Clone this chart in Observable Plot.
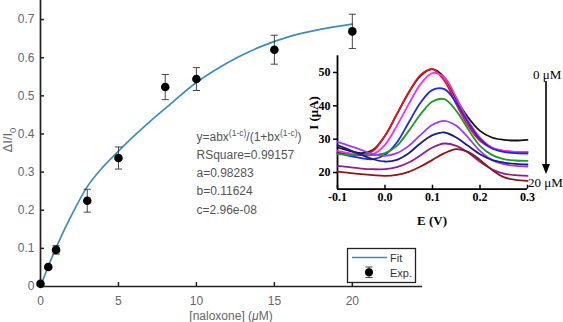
<!DOCTYPE html>
<html><head><meta charset="utf-8">
<script src="https://cdn.jsdelivr.net/npm/d3@7"></script>
<script src="https://cdn.jsdelivr.net/npm/@observablehq/plot@0.6"></script>
<style>
body{margin:0;background:#fff;}
#wrap{position:relative;width:563px;height:322px;overflow:hidden;}
#wrap svg{position:absolute;}
</style></head><body><div id="wrap"></div><script>
// ---- main chart data ----
const conc = [0, 0.5, 1, 3, 5, 8, 10, 15, 20];
const ratio = [0.007, 0.051, 0.096, 0.225, 0.337, 0.523, 0.544, 0.621, 0.669];
const ratioErr = [0.004, 0.005, 0.011, 0.030, 0.029, 0.033, 0.030, 0.038, 0.045];
const fitConc = [0, 0.5, 1, 2, 3, 4, 5, 6, 7, 8, 10, 12, 14, 16, 18, 20];
const fitRatio = [0, 0.053, 0.102, 0.188, 0.262, 0.313, 0.355, 0.395, 0.432, 0.467, 0.535, 0.587, 0.627, 0.656, 0.675, 0.688];
const mainXTicks = [0, 5, 10, 15, 20];
const mainXTickLabels = ["0", "5", "10", "15", "20"];
const mainYTicks = [0, 0.1, 0.2, 0.3, 0.4, 0.5, 0.6, 0.7];
const mainYTickLabels = ["0", "0.1", "0.2", "0.3", "0.4", "0.5", "0.6", "0.7"];
const fitText = ["RSquare=0.99157", "a=0.98283", "b=0.11624", "c=2.96e-08"];
const legendLabels = ["Fit", "Exp."];

// ---- inset (voltammograms) data ----
const potential = [-0.1, -0.075, -0.05, -0.025, 0, 0.025, 0.05, 0.075, 0.1, 0.125, 0.15, 0.175, 0.2, 0.225, 0.25, 0.275, 0.3];
const cur0   = [27.5, 26.5, 25.8, 26.8, 31.0, 37.5, 44.0, 49.0, 51.0, 48.5, 42.0, 36.5, 32.5, 30.5, 29.8, 29.6, 29.8];
const cur05  = [26.0, 25.5, 25.2, 26.5, 31.0, 37.5, 44.0, 49.3, 51.0, 47.5, 40.5, 34.0, 29.5, 27.3, 26.5, 26.2, 26.1];
const cur1   = [26.5, 25.8, 25.3, 25.5, 28.3, 34.0, 40.5, 46.5, 49.8, 48.5, 42.5, 35.5, 30.5, 27.5, 26.5, 26.2, 26.2];
const cur3   = [25.8, 25.0, 24.3, 24.0, 25.3, 29.0, 35.0, 41.0, 44.8, 45.0, 41.0, 35.0, 30.0, 27.3, 26.2, 25.8, 25.7];
const cur5   = [25.5, 25.3, 25.2, 25.2, 25.8, 28.0, 32.5, 37.5, 41.3, 42.0, 38.5, 33.0, 28.0, 25.3, 24.0, 23.6, 23.5];
const cur8   = [29.2, 28.0, 26.8, 25.5, 25.0, 25.8, 28.0, 31.3, 34.3, 35.5, 34.0, 30.5, 26.5, 23.8, 22.5, 22.0, 21.8];
const cur10  = [28.2, 26.8, 25.3, 24.0, 23.3, 23.8, 25.8, 28.8, 31.2, 32.0, 30.5, 28.0, 25.5, 23.8, 23.0, 22.6, 22.4];
const cur15  = [22.0, 21.6, 21.2, 21.0, 21.0, 21.6, 23.0, 25.2, 27.5, 28.7, 28.0, 26.0, 23.2, 21.0, 19.7, 19.2, 19.0];
const cur20  = [20.3, 19.9, 19.5, 19.2, 19.0, 19.3, 20.2, 21.8, 23.8, 25.8, 27.0, 26.2, 23.8, 20.8, 18.6, 17.8, 17.5];
const curveSeries = [cur0, cur05, cur1, cur3, cur5, cur8, cur10, cur15, cur20];
const curveColors = ["#111111", "#e8141c", "#f22cf2", "#2424e6", "#1f9a2a", "#9b3cf0", "#1c1c8c", "#8e1f8e", "#8e1616"];
const insetXTicks = [-0.1, 0, 0.1, 0.2, 0.3];
const insetXTickLabels = ["-0.1", "0.0", "0.1", "0.2", "0.3"];
const insetYTicks = [20, 30, 40, 50];
const insetYTickLabels = ["20", "30", "40", "50"];
const concLabels = ["0 \u03bcM", "20 \u03bcM"];

const wrap = document.getElementById("wrap");

// ---- main plot ----
const pts = conc.map((c, i) => ({x: c, y: ratio[i], lo: ratio[i] - ratioErr[i], hi: ratio[i] + ratioErr[i]}));
const fit = fitConc.map((c, i) => ({x: c, y: fitRatio[i]}));
const cap = {draw(ctx, size) { const w = Math.sqrt(size / Math.PI); ctx.moveTo(-w, 0); ctx.lineTo(w, 0); }};
const axisColor = "#222";
const main = Plot.plot({
  width: 563, height: 322,
  marginLeft: 40, marginRight: 141, marginTop: 0, marginBottom: 36,
  style: {background: "transparent", fontFamily: "'Liberation Sans', Arial, sans-serif", fontSize: "12px", color: axisColor},
  x: {domain: [0, 24.5]},
  y: {domain: [0, 0.75]},
  marks: [
    Plot.ruleX([0], {stroke: axisColor, strokeWidth: 1.7}),
    Plot.ruleY([0], {stroke: axisColor, strokeWidth: 1.7}),
    Plot.axisX({ticks: mainXTicks, tickFormat: (d, i) => mainXTickLabels[i], tickSize: -4, tickPadding: 14, label: null, stroke: axisColor, strokeWidth: 1.5, fill: "#666"}),
    Plot.axisY({ticks: mainYTicks, tickFormat: (d, i) => mainYTickLabels[i], tickSize: -4, tickPadding: 10, label: null, stroke: axisColor, strokeWidth: 1.5, fill: "#666"}),
    Plot.line(fit, {x: "x", y: "y", stroke: "#3f8cb8", strokeWidth: 1.7, curve: "monotone-x"}),
    Plot.link(pts, {x1: "x", x2: "x", y1: "lo", y2: "hi", stroke: "#333", strokeWidth: 0.9}),
    Plot.dot(pts, {x: "x", y: "lo", symbol: cap, r: 3.6, stroke: "#333", strokeWidth: 0.9}),
    Plot.dot(pts, {x: "x", y: "hi", symbol: cap, r: 3.6, stroke: "#333", strokeWidth: 0.9}),
    Plot.dot(pts, {x: "x", y: "y", r: 4.3, fill: "#000", stroke: "none"})
  ]
});
main.style.left = "0px"; main.style.top = "0px";
wrap.appendChild(main);

// ---- inset plot ----
const insetMarks = [
  Plot.ruleX([-0.1], {stroke: "#000", strokeWidth: 1.8}),
  Plot.ruleY([15], {stroke: "#000", strokeWidth: 1.8}),
  Plot.axisX({ticks: insetXTicks, tickFormat: (d, i) => insetXTickLabels[i], tickSize: -4, tickPadding: 7, label: null, strokeWidth: 1.5, fontWeight: "bold"}),
  Plot.axisY({ticks: insetYTicks, tickFormat: (d, i) => insetYTickLabels[i], tickSize: 4, tickPadding: 3, label: null, strokeWidth: 1.5, fontWeight: "bold"})
];
curveSeries.forEach((s, k) => {
  const rows = potential.map((e, i) => ({e, i: s[i]}));
  insetMarks.push(Plot.line(rows, {x: "e", y: "i", stroke: curveColors[k], strokeWidth: 1.8, curve: "catmull-rom"}));
});
const inset = Plot.plot({
  width: 273, height: 190,
  marginLeft: 47, marginRight: 36, marginTop: 15.3, marginBottom: 41.3,
  style: {background: "transparent", fontFamily: "'Liberation Serif', 'Times New Roman', serif", fontSize: "12px", fontWeight: "bold", color: "#000"},
  x: {domain: [-0.1, 0.3]},
  y: {domain: [15, 55]},
  marks: insetMarks
});
inset.style.left = "290px"; inset.style.top = "40px";
d3.select(inset).selectAll("text").attr("font-weight", "bold");
wrap.appendChild(inset);

// ---- annotations overlay ----
const ov = d3.select(wrap).append("svg").attr("width", 563).attr("height", 322)
  .style("left", "0px").style("top", "0px").style("overflow", "visible");
const sans = "'Liberation Sans', Arial, sans-serif";
const serif = "'Liberation Serif', 'Times New Roman', serif";

// main y label  ΔI/I0
const yl = ov.append("text").attr("transform", "translate(12,140) rotate(-90)")
  .attr("text-anchor", "middle").attr("font-family", sans).attr("font-size", 13).attr("fill", "#666");
yl.append("tspan").text("\u0394I/I");
yl.append("tspan").attr("dy", 3.5).attr("font-size", 9.5).text("0");

// main x label
const xl = ov.append("text").attr("x", 231).attr("y", 319.5).attr("text-anchor", "middle")
  .attr("font-family", sans).attr("font-size", 12).attr("fill", "#666");
xl.append("tspan").text("[naloxone] (");
xl.append("tspan").attr("font-style", "italic").text("\u03bc");
xl.append("tspan").text("M)");

// fit equation text
const eq = ov.append("text").attr("x", 196.5).attr("y", 140.5)
  .attr("font-family", sans).attr("font-size", 12).attr("fill", "#555");
eq.append("tspan").text("y=abx");
eq.append("tspan").attr("dy", -5).attr("font-size", 8.5).text("(1-c)");
eq.append("tspan").attr("dy", 5).text("/(1+bx");
eq.append("tspan").attr("dy", -5).attr("font-size", 8.5).text("(1-c)");
eq.append("tspan").attr("dy", 5).text(")");
fitText.forEach((t, i) => {
  ov.append("text").attr("x", 196.5).attr("y", 158.8 + i * 18.3)
    .attr("font-family", sans).attr("font-size", 12).attr("fill", "#555").text(t);
});

// legend
const lg = ov.append("g");
lg.append("rect").attr("x", 347.5).attr("y", 248.5).attr("width", 68).attr("height", 34)
  .attr("fill", "#fff").attr("stroke", "#222").attr("stroke-width", 1.3);
lg.append("line").attr("x1", 352).attr("x2", 387).attr("y1", 257.5).attr("y2", 257.5)
  .attr("stroke", "#3f8cb8").attr("stroke-width", 1.7);
lg.append("line").attr("x1", 369).attr("x2", 369).attr("y1", 267).attr("y2", 277.5).attr("stroke", "#333").attr("stroke-width", 0.9);
lg.append("line").attr("x1", 365.5).attr("x2", 372.5).attr("y1", 267).attr("y2", 267).attr("stroke", "#333").attr("stroke-width", 0.9);
lg.append("line").attr("x1", 365.5).attr("x2", 372.5).attr("y1", 277.5).attr("y2", 277.5).attr("stroke", "#333").attr("stroke-width", 0.9);
lg.append("circle").attr("cx", 369).attr("cy", 272.3).attr("r", 4).attr("fill", "#000");
legendLabels.forEach((t, i) => {
  lg.append("text").attr("x", 390).attr("y", 261.5 + i * 15).attr("font-family", sans)
    .attr("font-size", 11).attr("fill", "#333").text(t);
});

// inset axis labels
ov.append("text").attr("transform", "translate(318,113) rotate(-90)").attr("text-anchor", "middle")
  .attr("font-family", serif).attr("font-size", 13).attr("font-weight", "bold").attr("fill", "#000").text("I (\u03bcA)");
ov.append("text").attr("x", 432).attr("y", 224.5).attr("text-anchor", "middle")
  .attr("font-family", serif).attr("font-size", 13).attr("font-weight", "bold").attr("fill", "#000").text("E (V)");

// concentration arrow
ov.append("text").attr("x", 533).attr("y", 78.5).attr("font-family", serif).attr("font-size", 13).attr("fill", "#000").text(concLabels[0]);
ov.append("text").attr("x", 528).attr("y", 186.5).attr("font-family", serif).attr("font-size", 13).attr("fill", "#000").text(concLabels[1]);
ov.append("line").attr("x1", 546).attr("x2", 546).attr("y1", 81).attr("y2", 166).attr("stroke", "#000").attr("stroke-width", 1.6);
ov.append("path").attr("d", "M542,164 L550,164 L546,174 Z").attr("fill", "#000");
</script></body></html>
